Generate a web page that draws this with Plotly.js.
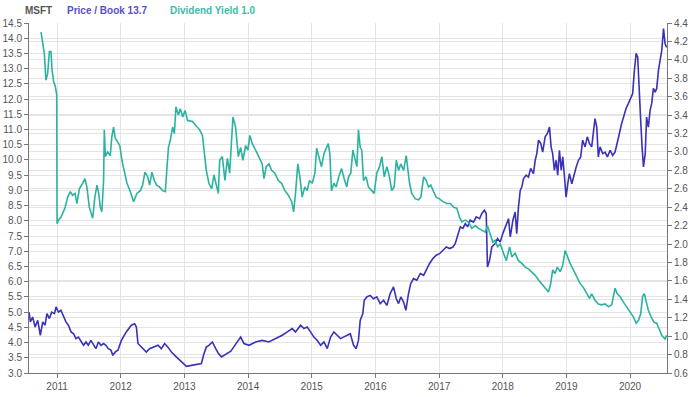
<!DOCTYPE html>
<html>
<head>
<meta charset="utf-8">
<script src="https://cdn.plot.ly/plotly-3.0.1.min.js"></script>
<style>html,body{margin:0;padding:0;background:#fff;}#chart{width:700px;height:397px;}</style>
</head>
<body>
<div id="chart"></div>
<script>
// Price / Book (left axis) – decimal year and value
const pbYears = [2010.560,2010.582,2010.619,2010.655,2010.697,2010.739,2010.776,2010.812,2010.843,2010.881,2010.917,2010.959,2010.984,2011.022,2011.063,2011.105,2011.141,2011.179,2011.220,2011.262,2011.298,2011.336,2011.377,2011.419,2011.455,2011.493,2011.534,2011.576,2011.612,2011.650,2011.691,2011.733,2011.769,2011.807,2011.848,2011.879,2011.921,2011.958,2012.011,2012.089,2012.168,2012.220,2012.246,2012.272,2012.325,2012.403,2012.455,2012.507,2012.586,2012.639,2012.691,2012.743,2012.796,2012.874,2012.953,2013.031,2013.110,2013.188,2013.267,2013.303,2013.345,2013.386,2013.424,2013.440,2013.491,2013.534,2013.581,2013.659,2013.730,2013.774,2013.832,2013.884,2013.936,2014.014,2014.119,2014.224,2014.328,2014.433,2014.538,2014.617,2014.695,2014.747,2014.826,2014.878,2014.931,2014.983,2015.035,2015.088,2015.140,2015.192,2015.245,2015.297,2015.349,2015.402,2015.454,2015.501,2015.553,2015.606,2015.658,2015.700,2015.736,2015.763,2015.804,2015.826,2015.867,2015.920,2015.972,2016.024,2016.077,2016.129,2016.181,2016.234,2016.286,2016.328,2016.364,2016.400,2016.443,2016.479,2016.521,2016.557,2016.600,2016.652,2016.705,2016.757,2016.809,2016.851,2016.903,2016.956,2017.008,2017.060,2017.113,2017.165,2017.217,2017.254,2017.290,2017.333,2017.374,2017.411,2017.447,2017.490,2017.542,2017.584,2017.636,2017.672,2017.710,2017.741,2017.761,2017.793,2017.829,2017.882,2017.918,2017.961,2018.002,2018.039,2018.091,2018.118,2018.159,2018.196,2018.221,2018.248,2018.275,2018.300,2018.327,2018.369,2018.405,2018.441,2018.484,2018.510,2018.535,2018.562,2018.598,2018.630,2018.667,2018.703,2018.735,2018.761,2018.786,2018.813,2018.840,2018.865,2018.892,2018.918,2018.943,2018.970,2018.997,2019.022,2019.049,2019.085,2019.122,2019.154,2019.190,2019.226,2019.257,2019.295,2019.331,2019.363,2019.399,2019.426,2019.452,2019.477,2019.504,2019.531,2019.571,2019.609,2019.645,2019.688,2019.728,2019.766,2019.802,2019.834,2019.870,2019.907,2019.939,2019.975,2020.011,2020.042,2020.069,2020.096,2020.121,2020.148,2020.168,2020.190,2020.211,2020.238,2020.262,2020.289,2020.316,2020.341,2020.367,2020.394,2020.419,2020.446,2020.472,2020.498,2020.525,2020.551,2020.576];
const pbValues = [5.00,4.68,4.84,4.51,4.73,4.24,4.68,4.57,4.95,4.79,5.00,4.95,5.17,5.00,5.06,4.84,4.68,4.57,4.35,4.29,4.13,4.18,4.02,3.91,4.02,3.91,4.07,3.91,3.80,4.02,3.91,3.97,3.91,3.80,3.75,3.58,3.70,3.75,4.07,4.35,4.57,4.62,4.51,3.97,3.85,3.69,3.80,3.85,3.91,3.80,3.97,3.85,3.69,3.53,3.36,3.22,3.25,3.29,3.31,3.60,3.85,3.91,3.97,4.02,3.80,3.65,3.53,3.64,3.72,3.85,4.02,4.18,3.97,3.91,4.02,4.07,4.02,4.13,4.24,4.35,4.46,4.35,4.57,4.46,4.51,4.35,4.18,4.07,3.91,4.02,3.80,4.18,4.35,4.24,4.13,4.18,4.24,4.29,3.91,3.80,4.07,4.73,4.95,5.39,5.50,5.55,5.44,5.50,5.28,5.39,5.22,5.61,5.83,5.44,5.28,5.50,5.33,5.06,5.61,5.94,6.10,6.05,6.27,6.21,6.43,6.60,6.76,6.87,6.92,7.03,7.14,7.09,7.14,7.25,7.47,7.80,7.75,7.91,7.80,8.02,7.96,8.13,8.07,8.24,8.35,8.24,6.48,6.70,7.14,7.25,7.42,7.30,7.58,7.80,8.07,7.47,8.02,8.29,7.58,8.46,9.00,9.11,9.39,9.50,9.44,9.72,9.55,9.99,10.21,10.65,10.54,10.26,10.76,10.87,11.08,10.43,10.21,9.66,9.99,9.50,10.32,9.66,10.10,9.44,8.78,9.22,9.55,9.22,9.55,9.77,9.99,10.10,10.65,10.43,10.76,10.54,10.43,10.98,11.36,11.08,10.10,10.43,10.21,10.26,10.10,10.32,10.15,10.26,10.54,10.87,11.20,11.47,11.69,11.85,12.02,12.18,12.95,13.50,13.38,12.40,11.30,10.43,9.77,10.21,11.41,11.08,11.63,11.85,12.35,12.23,12.35,12.95,13.28,13.60,14.32,13.82,13.70];

// Dividend Yield (right axis) – decimal year and value
const dyYears = [2010.749,2010.786,2010.802,2010.827,2010.854,2010.881,2010.906,2010.922,2010.948,2010.975,2010.995,2011.000,2011.022,2011.063,2011.089,2011.126,2011.168,2011.210,2011.246,2011.283,2011.314,2011.352,2011.403,2011.440,2011.471,2011.509,2011.560,2011.597,2011.628,2011.655,2011.681,2011.706,2011.733,2011.744,2011.760,2011.796,2011.838,2011.863,2011.890,2011.917,2011.953,2011.989,2012.020,2012.058,2012.099,2012.152,2012.204,2012.256,2012.309,2012.345,2012.381,2012.424,2012.455,2012.491,2012.529,2012.565,2012.608,2012.659,2012.702,2012.727,2012.749,2012.780,2012.816,2012.843,2012.868,2012.906,2012.937,2012.973,2013.009,2013.052,2013.072,2013.126,2013.177,2013.240,2013.283,2013.308,2013.345,2013.386,2013.429,2013.465,2013.502,2013.534,2013.554,2013.597,2013.637,2013.675,2013.711,2013.743,2013.763,2013.805,2013.848,2013.884,2013.920,2013.962,2013.998,2014.030,2014.067,2014.119,2014.171,2014.224,2014.250,2014.287,2014.328,2014.371,2014.422,2014.476,2014.528,2014.579,2014.633,2014.685,2014.716,2014.747,2014.783,2014.815,2014.852,2014.893,2014.931,2014.967,2015.009,2015.050,2015.077,2015.113,2015.155,2015.192,2015.229,2015.261,2015.286,2015.312,2015.349,2015.386,2015.427,2015.469,2015.512,2015.553,2015.579,2015.615,2015.647,2015.684,2015.710,2015.736,2015.763,2015.788,2015.815,2015.857,2015.893,2015.945,2015.983,2016.024,2016.066,2016.102,2016.140,2016.181,2016.223,2016.259,2016.297,2016.328,2016.364,2016.400,2016.443,2016.485,2016.510,2016.537,2016.573,2016.626,2016.678,2016.714,2016.757,2016.799,2016.835,2016.871,2016.914,2016.956,2017.008,2017.060,2017.122,2017.176,2017.228,2017.279,2017.322,2017.358,2017.411,2017.463,2017.515,2017.568,2017.620,2017.672,2017.725,2017.761,2017.804,2017.845,2017.882,2017.918,2017.961,2018.002,2018.039,2018.055,2018.107,2018.143,2018.196,2018.248,2018.300,2018.353,2018.405,2018.457,2018.510,2018.562,2018.614,2018.667,2018.719,2018.755,2018.786,2018.824,2018.860,2018.902,2018.943,2018.981,2019.017,2019.060,2019.111,2019.163,2019.217,2019.268,2019.320,2019.363,2019.399,2019.452,2019.504,2019.556,2019.609,2019.661,2019.713,2019.766,2019.802,2019.845,2019.897,2019.948,2020.002,2020.053,2020.096,2020.132,2020.168,2020.199,2020.226,2020.253,2020.289,2020.331,2020.378,2020.419,2020.462,2020.498,2020.551,2020.576];
const dyValues = [4.30,4.10,4.07,3.78,3.85,4.09,4.09,3.89,3.76,3.71,3.62,2.22,2.26,2.29,2.33,2.39,2.51,2.57,2.53,2.55,2.44,2.60,2.66,2.71,2.62,2.40,2.28,2.51,2.64,2.55,2.40,2.35,2.69,3.24,2.95,3.00,2.96,3.16,3.27,3.15,3.11,3.07,2.91,2.80,2.66,2.57,2.46,2.55,2.58,2.64,2.78,2.73,2.64,2.78,2.69,2.64,2.62,2.58,2.57,2.84,3.05,3.13,3.27,3.20,3.49,3.40,3.47,3.38,3.45,3.34,3.34,3.33,3.29,3.24,3.18,3.05,2.80,2.66,2.60,2.75,2.62,2.55,2.91,2.95,2.69,2.93,2.77,3.24,3.38,3.27,2.95,3.05,2.91,3.07,3.02,3.18,3.09,3.02,2.95,2.87,2.71,2.84,2.87,2.80,2.77,2.69,2.66,2.58,2.53,2.46,2.35,2.55,2.87,2.73,2.51,2.62,2.58,2.69,2.66,2.77,3.04,2.95,2.84,2.98,3.05,3.09,2.98,2.58,2.66,2.62,2.73,2.82,2.71,2.62,2.73,2.77,3.02,2.91,2.84,3.24,3.05,3.02,2.69,2.73,2.62,2.58,2.55,2.77,2.84,2.95,2.73,2.84,2.73,2.58,2.62,2.91,2.80,2.87,2.80,2.96,2.84,2.66,2.55,2.49,2.48,2.51,2.73,2.69,2.62,2.64,2.57,2.51,2.49,2.46,2.44,2.44,2.40,2.39,2.29,2.24,2.26,2.24,2.17,2.20,2.17,2.15,2.13,2.20,2.10,2.02,2.04,1.97,2.00,1.93,1.86,1.82,1.97,1.86,1.90,1.82,1.79,1.75,1.73,1.70,1.66,1.61,1.57,1.53,1.48,1.57,1.72,1.68,1.75,1.70,1.77,1.93,1.86,1.79,1.72,1.64,1.57,1.53,1.46,1.41,1.46,1.39,1.35,1.34,1.35,1.32,1.34,1.52,1.46,1.43,1.37,1.32,1.26,1.21,1.14,1.17,1.24,1.43,1.46,1.39,1.28,1.21,1.15,1.14,1.06,1.01,0.97,1.01];

const yearTicks = [2011,2012,2013,2014,2015,2016,2017,2018,2019,2020];

function toDate(y){
  const yr = Math.floor(y);
  const s = Date.UTC(yr,0,1), e = Date.UTC(yr+1,0,1);
  return new Date(s + (y - yr) * (e - s)).toISOString().slice(0,10);
}

const blue = '#3a32b8';
const teal = '#2cb3a0';
const tickFont = {family:'Liberation Sans, Arial, sans-serif', size:10, color:'#555'};

const traces = [
  {x: pbYears.map(toDate), y: pbValues, type:'scatter', mode:'lines', yaxis:'y',
   line:{color:blue, width:1.6}, name:'Price / Book', hoverinfo:'skip'},
  {x: dyYears.map(toDate), y: dyValues, type:'scatter', mode:'lines', yaxis:'y2',
   line:{color:teal, width:1.6}, name:'Dividend Yield', hoverinfo:'skip'}
];

const layout = {
  width:700, height:397,
  margin:{l:29, r:33, t:23, b:24},
  paper_bgcolor:'#fff', plot_bgcolor:'#fff',
  showlegend:false,
  xaxis:{
    type:'date',
    range:[toDate(2010.56), toDate(2020.58)],
    tickvals: yearTicks.map(y => toDate(y)),
    ticktext: yearTicks.map(String),
    showgrid:true, gridcolor:'#e4e4e4', gridwidth:1,
    showline:true, linecolor:'#777', linewidth:1,
    ticks:'outside', ticklen:4, tickcolor:'#777',
    tickfont: tickFont, zeroline:false
  },
  yaxis:{
    range:[3,14.5], dtick:0.5, tick0:3, tickformat:'.1f',
    showgrid:true, gridcolor:'#e4e4e4', gridwidth:1,
    showline:true, linecolor:'#777', linewidth:1,
    ticks:'outside', ticklen:4, tickcolor:'#777',
    tickfont: tickFont, zeroline:false
  },
  yaxis2:{
    range:[0.6,4.4], dtick:0.2, tick0:0.6, tickformat:'.1f',
    overlaying:'y', side:'right',
    showgrid:true, gridcolor:'#e4e4e4', gridwidth:1,
    showline:true, linecolor:'#777', linewidth:1,
    ticks:'outside', ticklen:4, tickcolor:'#777',
    tickfont: tickFont, zeroline:false
  },
  annotations:[
    {text:'<b>MSFT</b>', xref:'paper', yref:'paper', x:-0.0094, y:1.036, xanchor:'left', yanchor:'middle', showarrow:false,
     font:{family:'Liberation Sans, Arial, sans-serif', size:10, color:'#555'}},
    {text:'<b>Price / Book 13.7</b>', xref:'paper', yref:'paper', x:0.056, y:1.036, xanchor:'left', yanchor:'middle', showarrow:false,
     font:{family:'Liberation Sans, Arial, sans-serif', size:10, color:'#5550c8'}},
    {text:'<b>Dividend Yield 1.0</b>', xref:'paper', yref:'paper', x:0.218, y:1.036, xanchor:'left', yanchor:'middle', showarrow:false,
     font:{family:'Liberation Sans, Arial, sans-serif', size:10, color:'#3dbba8'}}
  ]
};

Plotly.newPlot('chart', traces, layout, {staticPlot:true, displayModeBar:false});
</script>
</body>
</html>
